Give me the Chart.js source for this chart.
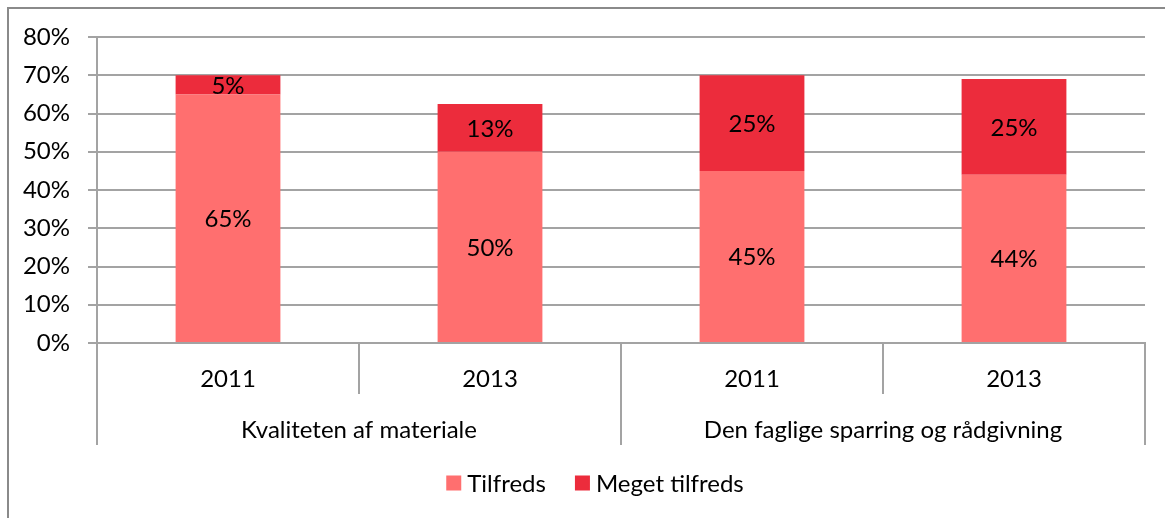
<!DOCTYPE html>
<html>
<head>
<meta charset="utf-8">
<script src="https://cdn.jsdelivr.net/npm/chart.js@4.4.0/dist/chart.umd.min.js"></script>
<style>
html,body{margin:0;padding:0;background:#fff;overflow:hidden;}
#frame{position:absolute;left:7px;top:7px;width:1300px;height:600px;border-left:2px solid #8a8a8a;border-top:2px solid #8a8a8a;}
#c{position:absolute;left:0;top:0;}
</style>
</head>
<body>
<div id="frame"></div>
<canvas id="c" width="1165" height="518"></canvas>
<script>
var years = ['2011', '2013', '2011', '2013'];
var groups = ['Kvaliteten af materiale', 'Den faglige sparring og rådgivning'];
var tilfreds = [65, 50, 45, 44];
var megetTilfreds = [5, 12.5, 25, 25];
var seriesNames = ['Tilfreds', 'Meget tilfreds'];
var seriesColors = ['#ff6f6f', '#ec2c3c'];
var yMax = 80;
var yStep = 10;

var FONT_FAMILY = 'Lato';
var FONT_SIZE = 24;
var GRID = '#a3a3a3';

// data labels, category separators, group labels and the legend
var labelPlugin = {
	id: 'labelPlugin',
	afterDatasetsDraw: function(chart) {
		var ctx = chart.ctx;
		ctx.save();
		ctx.font = FONT_SIZE + 'px ' + FONT_FAMILY;
		ctx.fillStyle = '#000';
		ctx.textAlign = 'center';
		ctx.textBaseline = 'middle';
		chart.data.datasets.forEach(function(ds, i) {
			chart.getDatasetMeta(i).data.forEach(function(bar, j) {
				ctx.fillText(Math.round(ds.data[j]) + '%', bar.x, (bar.y + bar.base) / 2 + 1);
			});
		});
		ctx.restore();
	},
	afterDraw: function(chart) {
		var ctx = chart.ctx;
		var xs = chart.scales.x;
		var area = chart.chartArea;
		var n = years.length;
		var bounds = [];
		for (var i = 0; i <= n; i++) {
			if (i == 0) bounds.push(area.left);
			else if (i == n) bounds.push(area.right);
			else bounds.push((xs.getPixelForValue(i - 1) + xs.getPixelForValue(i)) / 2);
		}
		ctx.save();
		ctx.strokeStyle = GRID;
		ctx.lineWidth = 2;
		for (var i = 0; i <= n; i++) {
			var x = Math.round(bounds[i]);
			var bottom = (i % 2 == 0) ? area.bottom + 102 : area.bottom + 51;
			ctx.beginPath();
			ctx.moveTo(x, area.bottom);
			ctx.lineTo(x, bottom);
			ctx.stroke();
		}
		ctx.font = FONT_SIZE + 'px ' + FONT_FAMILY;
		ctx.fillStyle = '#000';
		ctx.textAlign = 'center';
		ctx.textBaseline = 'middle';
		groups.forEach(function(g, k) {
			ctx.fillText(g, (bounds[k * 2] + bounds[k * 2 + 2]) / 2, area.bottom + 87);
		});

		// legend
		var box = 15, gap = 6, itemGap = 29;
		var ly = area.bottom + 140;
		var total = 0;
		chart.data.datasets.forEach(function(ds, i) {
			total += box + gap + ctx.measureText(ds.label).width + (i > 0 ? itemGap : 0);
		});
		var lx = 595 - total / 2;
		ctx.textAlign = 'left';
		chart.data.datasets.forEach(function(ds) {
			ctx.fillStyle = ds.backgroundColor;
			ctx.fillRect(lx, ly - box / 2, box, box);
			ctx.fillStyle = '#000';
			ctx.fillText(ds.label, lx + box + gap, ly + 1);
			lx += box + gap + ctx.measureText(ds.label).width + itemGap;
		});
		ctx.restore();
	}
};

function drawChart() {
	Chart.defaults.font.family = FONT_FAMILY;
	Chart.defaults.font.size = FONT_SIZE;
	Chart.defaults.color = '#000';

	new Chart(document.getElementById('c'), {
		type: 'bar',
		data: {
			labels: years,
			datasets: [{
				label: seriesNames[0],
				data: tilfreds,
				backgroundColor: seriesColors[0]
			}, {
				label: seriesNames[1],
				data: megetTilfreds,
				backgroundColor: seriesColors[1]
			}]
		},
		options: {
			responsive: false,
			devicePixelRatio: 1,
			animation: false,
			datasets: {
				bar: { categoryPercentage: 1, barPercentage: 0.4 }
			},
			layout: { padding: { left: 0, right: 20, top: 37, bottom: 0 } },
			plugins: {
				legend: { display: false },
				tooltip: { enabled: false }
			},
			scales: {
				x: {
					stacked: true,
					grid: { display: false },
					border: { color: GRID, width: 2 },
					ticks: { padding: 14, font: { size: FONT_SIZE } },
					afterFit: function(scale) { scale.height = 175; }
				},
				y: {
					stacked: true,
					min: 0,
					max: yMax,
					ticks: {
						stepSize: yStep,
						padding: 18,
						font: { size: FONT_SIZE },
						callback: function(v) { return v + '%'; }
					},
					grid: { color: GRID, lineWidth: 2, tickLength: 9 },
					border: { color: GRID, width: 2 },
					afterFit: function(scale) { scale.width = 97; }
				}
			}
		},
		plugins: [labelPlugin]
	});
}

if (document.fonts && document.fonts.load) {
	document.fonts.load(FONT_SIZE + 'px ' + FONT_FAMILY).then(drawChart, drawChart);
} else {
	drawChart();
}
</script>
</body>
</html>
